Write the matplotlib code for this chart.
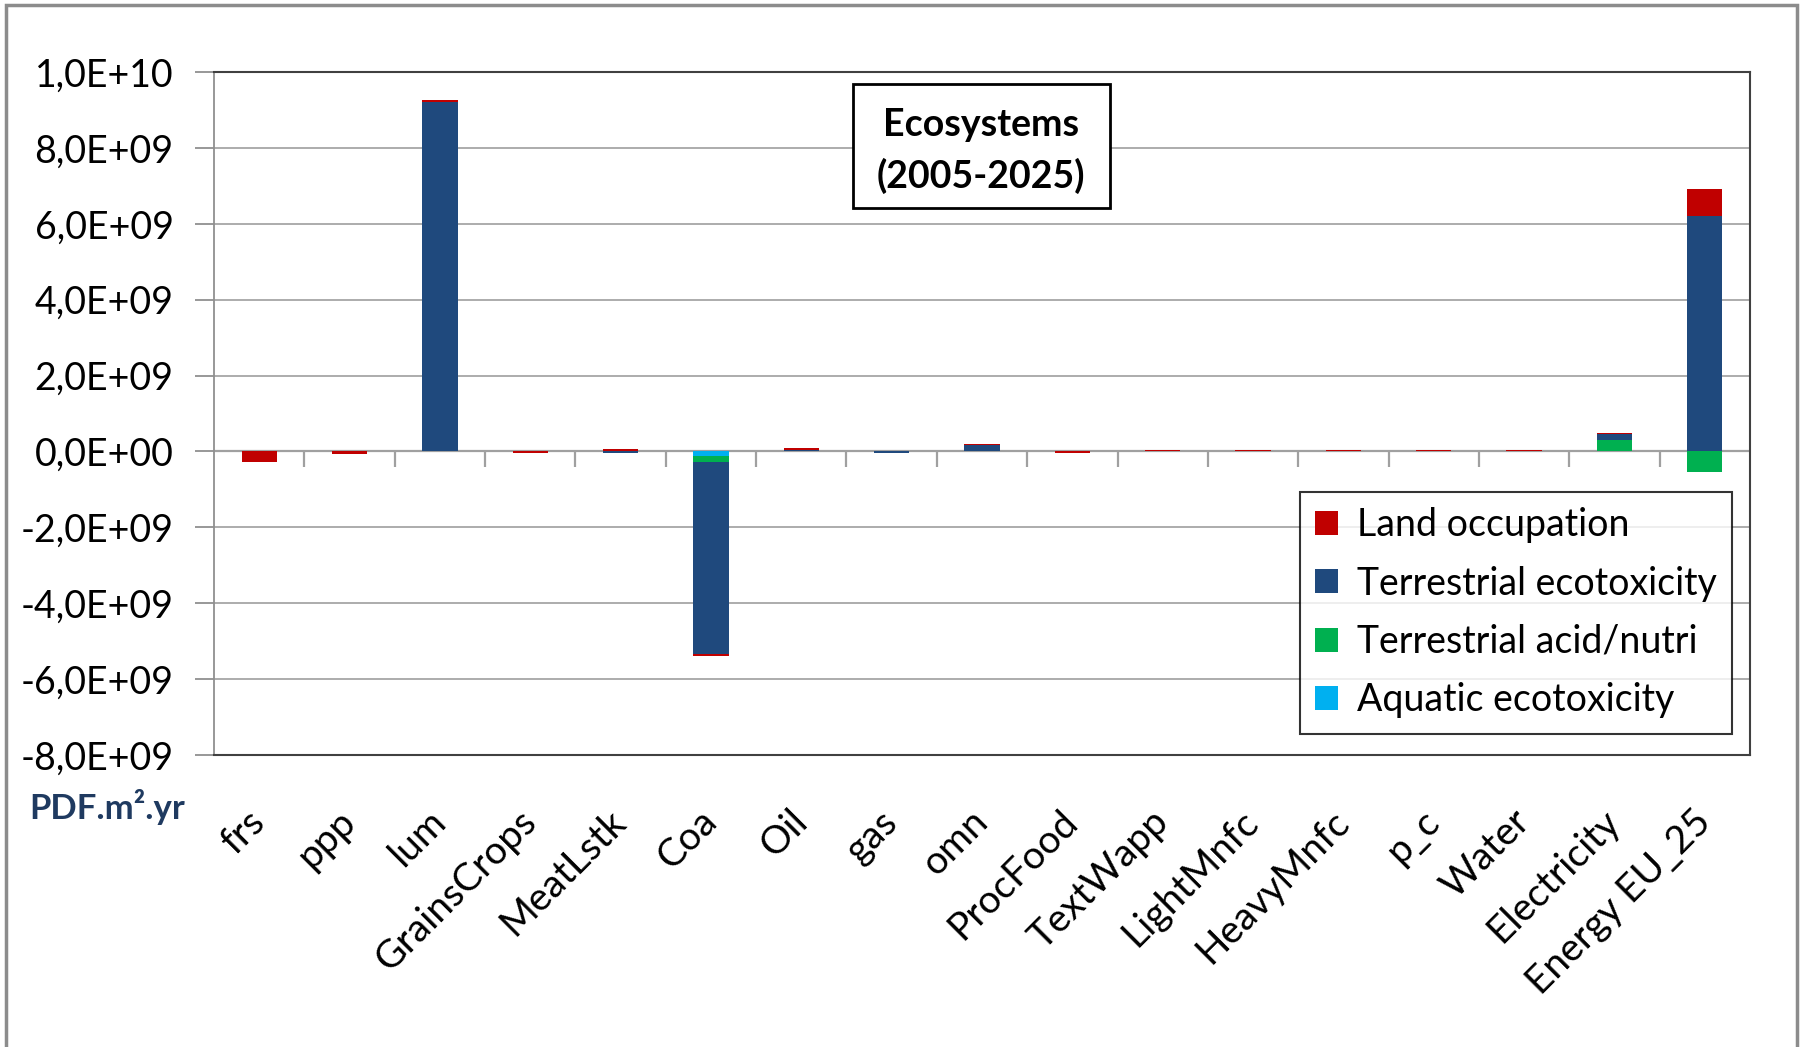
import numpy as np
import matplotlib
matplotlib.use("Agg")
import matplotlib.pyplot as plt
from matplotlib.patches import Patch, Rectangle

plt.rcParams["font.family"] = ["Lato", "DejaVu Sans"]

# ── Data ──────────────────────────────────────────────────────────────
categories = ["frs", "ppp", "lum", "GrainsCrops", "MeatLstk", "Coa", "Oil",
              "gas", "omn", "ProcFood", "TextWapp", "LightMnfc", "HeavyMnfc",
              "p_c", "Water", "Electricity", "Energy EU_25"]

# stacked from zero outward: aquatic, acid/nutri, terrestrial ecotox, land
aquatic = [0, 0, 0, 0, 0, -1.2e8, 0, 0, 0, 0, 0, 0, 0, 0, 0, 0, 2e7]
acid    = [0, 0, 2e7, 0, 0, -1.6e8, 0, 0, 0, 0, 0, 0, 0, 0, 0, 2.9e8, -5.3e8]
terr    = [0, 0, 9.2e9, 0, -5e7, -5.07e9, 5e7, -5e7, 1.6e8, 0,
           0, 0, 0, 0, 0, 1.75e8, 6.19e9]
land    = [-2.8e8, -8e7, 3e7, -5e7, 7e7, -5e7, 4e7, 0, 4e7, -5e7,
           4e7, 4e7, 4e7, 4e7, 4e7, 3e7, 7.0e8]

series = [
    ("Aquatic ecotoxicity",     aquatic, "#00B0F0"),
    ("Terrestrial acid/nutri",  acid,    "#00B050"),
    ("Terrestrial ecotoxicity", terr,    "#1F497D"),
    ("Land occupation",         land,    "#C00000"),
]

y_ticks = np.arange(-8e9, 1.01e10, 2e9)

# ── Figure ────────────────────────────────────────────────────────────
fig = plt.figure(figsize=(18.05, 10.47), dpi=100)
ax = fig.add_axes([214/1805, 1 - 755/1047, 1536/1805, 683/1047])

x = np.arange(len(categories))
pos_base = np.zeros(len(categories))
neg_base = np.zeros(len(categories))
for name, vals, col in series:
    v = np.array(vals, dtype=float)
    base = np.where(v >= 0, pos_base, neg_base)
    ax.bar(x, v, width=0.39, bottom=base, color=col, zorder=3)
    pos_base += np.where(v >= 0, v, 0)
    neg_base += np.where(v < 0, v, 0)

ax.set_xlim(-0.5, len(categories) - 0.5)
ax.set_ylim(-8e9, 1e10)

# zero axis with category separators
ax.axhline(0, color="#a0a0a0", lw=1.6, zorder=2)
ax.vlines(np.arange(len(categories) - 1) + 0.5, -0.4e9, 0,
          color="#a0a0a0", lw=1.6, zorder=2)

ax.set_yticks(y_ticks)
ax.set_yticklabels([f"{v:.1E}".replace(".", ",") for v in y_ticks])
ax.yaxis.grid(True, color="#a6a6a6", lw=1.3, zorder=0)
ax.set_axisbelow(True)
ax.tick_params(axis="y", length=14, width=1.3, color="#909090",
               pad=15, labelsize=27)

ax.set_xticks(x)
ax.set_xticklabels(categories, rotation=45, ha="right", va="center",
                   rotation_mode="anchor")
ax.tick_params(axis="x", length=0, pad=44, labelsize=28)

for s in ["top", "right", "bottom"]:
    ax.spines[s].set_color("#404040")
    ax.spines[s].set_linewidth(1.5)
ax.spines["left"].set_color("#909090")
ax.spines["left"].set_linewidth(1.3)

# title box
ax.add_patch(Rectangle((0.4158, 0.8013), 0.1675, 0.1811, transform=ax.transAxes,
                       facecolor="white", edgecolor="black", lw=2, zorder=5))
ax.text(0.4995, 0.884, "Ecosystems\n(2005-2025)", transform=ax.transAxes,
        ha="center", va="center", fontsize=27, fontweight="bold",
        linespacing=1.52, zorder=6)

# legend
handles = [Patch(facecolor=c, label=n) for n, _, c in reversed(series)]
leg = fig.legend(handles=handles, loc="upper left",
                 bbox_to_anchor=(1300/1805, 1 - 492/1047), fontsize=27,
                 frameon=True, fancybox=False, handlelength=0.62,
                 handleheight=0.62, handletextpad=0.5, labelspacing=0.6,
                 borderpad=0.4, borderaxespad=0)
leg.get_frame().set_edgecolor("black")
leg.get_frame().set_linewidth(1.5)

# unit label
fig.text(29/1805, 1 - 807/1047, "PDF.m².yr", fontsize=25, fontweight="bold",
         color="#1F3A60", ha="left", va="center")

# outer chart border
fig.add_artist(Rectangle((6/1805, -0.02), 1791/1805, 1.02 - 5/1047,
                         transform=fig.transFigure, fill=False,
                         edgecolor="#8c8c8c", lw=2.5))

fig.savefig("out.png", dpi=100, facecolor="white")
